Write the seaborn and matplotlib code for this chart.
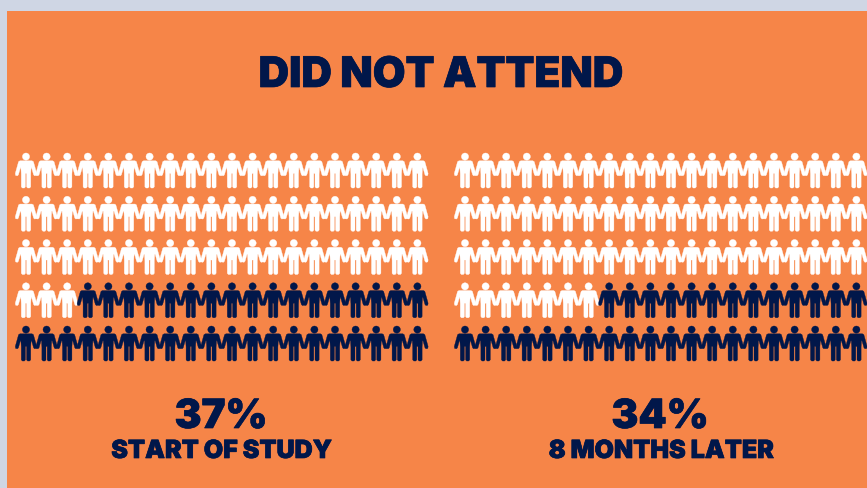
import matplotlib
matplotlib.use("Agg")
import matplotlib.patheffects as pe
import matplotlib.pyplot as plt
import numpy as np
import pandas as pd
import seaborn as sns
from matplotlib.patches import Rectangle
from matplotlib.path import Path

# -------------------------------------------------------------------------
# DATA
# -------------------------------------------------------------------------
TITLE = "DID NOT ATTEND"
PANEL_PCT = ["37%", "34%"]
PANEL_LABELS = ["START OF STUDY", "8 MONTHS LATER"]
WHITE_COUNTS = [63, 67]  # icons drawn white in each panel, as counted
N_COLS = 20
N_ROWS = 5

BG = "#CFD6E4"
ORANGE = "#F68548"
NAVY = "#01174A"
W, H = 867, 488


def person_marker():
    # half outline in px, y measured down from top of the head
    half = [
        (0, 7.8), (6, 7.8), (7.4, 8.6), (10.7, 20.4), (10.4, 22.4), (8.6, 22.8),
        (7.6, 21.8), (5.6, 14.8), (5.1, 14.8), (4.7, 21), (4.7, 33.8), (3.6, 35),
        (1.6, 35), (0.6, 33.8), (0.6, 20.5), (0, 20.5),
    ]
    right = np.array(half, dtype=float)
    left = right[::-1][1:-1] * [-1, 1]
    body = np.vstack([right, left, right[:1]])
    body[:, 1] = 17.5 - body[:, 1]
    body_path = Path(body, closed=True)
    head = Path.circle((0, 13.9), 3.6)
    return Path.make_compound_path(body_path, head)


def panel_frame(n_white):
    rows, cols = np.divmod(np.arange(N_COLS * N_ROWS), N_COLS)
    group = np.where(np.arange(N_COLS * N_ROWS) < n_white, "white", "navy")
    return pd.DataFrame({"col": cols, "row": rows, "group": group})


sns.set_theme(style="white")
plt.rcParams["font.family"] = ["Inter", "DejaVu Sans"]

fig = plt.figure(figsize=(W / 100, H / 100), dpi=100, facecolor=BG)
fig.patches.append(
    Rectangle((7 / W, 0), 1 - 7 / W, 1 - 11 / H, transform=fig.transFigure,
              facecolor=ORANGE, edgecolor="none", zorder=-1)
)

# a thin outline in the text colour gets closer to the heavier original type
heavy = [pe.withStroke(linewidth=0.5, foreground=NAVY)]

marker = person_marker()
col_w, row_h = 20.6, 43.25
top = 170.5 - row_h / 2
for left_x, n_white, pct, label, pct_x, label_x in zip(
    [26, 465], WHITE_COUNTS, PANEL_PCT, PANEL_LABELS, [221, 660], [221.5, 661]
):
    ax = fig.add_axes([
        (left_x - col_w / 2) / W,
        1 - (top + row_h * N_ROWS) / H,
        col_w * N_COLS / W,
        row_h * N_ROWS / H,
    ])
    sns.scatterplot(
        data=panel_frame(n_white), x="col", y="row", hue="group",
        palette={"white": "white", "navy": NAVY}, marker=marker, s=635,
        linewidth=0.25, edgecolor="face", legend=False, clip_on=False, ax=ax,
    )
    ax.set_xlim(-0.5, N_COLS - 0.5)
    ax.set_ylim(N_ROWS - 0.5, -0.5)
    ax.axis("off")
    fig.text(pct_x / W, 1 - 428 / H, pct, ha="center", va="baseline", color=NAVY,
             fontsize=29, fontweight="black", path_effects=heavy)
    fig.text(label_x / W, 1 - 458 / H, label, ha="center", va="baseline", color=NAVY,
             fontsize=18, fontweight="black", path_effects=heavy)

fig.text(441 / W, 1 - 87 / H, TITLE, ha="center", va="baseline", color=NAVY,
         fontsize=30.4, fontweight="black", path_effects=heavy)

plt.savefig("out.png", dpi=100, facecolor=BG)
